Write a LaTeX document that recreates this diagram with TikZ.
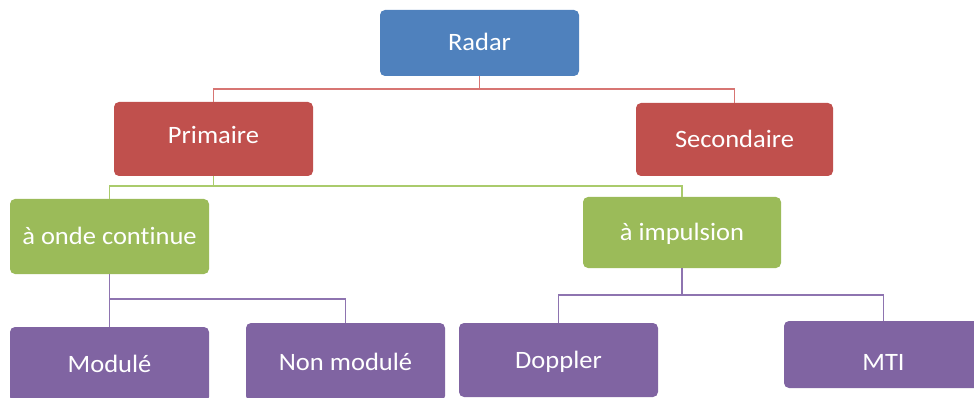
\documentclass[tikz,border=0pt]{standalone}
\usepackage{fontspec}
\setmainfont{Carlito}[Ligatures=NoCommon, FakeStretch=1.06]
\definecolor{cBlue}{HTML}{4F81BD}
\definecolor{cRed}{HTML}{C0504D}
\definecolor{cGreen}{HTML}{9BBB59}
\definecolor{cPurple}{HTML}{8064A2}
\definecolor{lRed}{HTML}{D77573}
\definecolor{lGreen}{HTML}{AACB6C}
\definecolor{lPurple}{HTML}{8E74B0}
\tikzset{
  box/.style={rectangle, rounded corners=5pt, inner sep=0pt, minimum width=199pt,
    text=white, font=\fontsize{25}{29}\selectfont, text height=16pt, text depth=0pt},
  blueBox/.style={box, fill=cBlue},
  redBox/.style={box, fill=cRed},
  greenBox/.style={box, fill=cGreen},
  purpleBox/.style={box, fill=cPurple},
  link/.style={line width=1.6pt},
}
\begin{document}
\begin{tikzpicture}[x=1pt,y=-1pt]
\useasboundingbox (0,0) rectangle (974,398);
\clip (0,0) rectangle (974,398);

% boxes
\node[blueBox, minimum height=66pt] (radar) at (479.5,43) {Radar};
\node[redBox, minimum height=74pt, text height=10pt] (prim) at (213.5,139) {Primaire};
\node[redBox, minimum height=73pt, minimum width=197pt] (sec) at (734.5,139.5) {Secondaire};
\node[greenBox, minimum height=75pt] (onde) at (109.5,236.5) {à onde continue};
\node[greenBox, minimum height=71pt, minimum width=198pt] (imp) at (682,232.5) {à impulsion};
\node[purpleBox, minimum height=75pt] (mod) at (109.5,364.5) {Modulé};
\node[purpleBox, minimum height=78pt] (non) at (345.5,362) {Non modulé};
\node[purpleBox, minimum height=74pt] (dop) at (558.5,360) {Doppler};
\node[purpleBox, minimum height=67pt, text height=32pt] (mti) at (883.5,354.5) {MTI};

% connectors
\draw[link, lRed] (radar.south) -- ++(0,13) -| (prim.north);
\draw[link, lRed] (radar.south) -- ++(0,13) -| (sec.north);
\draw[link, lGreen] (prim.south) -- ++(0,10) -| (onde.north);
\draw[link, lGreen] (prim.south) -- ++(0,10) -| (imp.north);
\draw[link, lPurple] (onde.south) -- ++(0,25) -| (mod.north);
\draw[link, lPurple] (onde.south) -- ++(0,25) -| (non.north);
\draw[link, lPurple] (imp.south) -- ++(0,27) -| (dop.north);
\draw[link, lPurple] (imp.south) -- ++(0,27) -| (mti.north);
\end{tikzpicture}
\end{document}
